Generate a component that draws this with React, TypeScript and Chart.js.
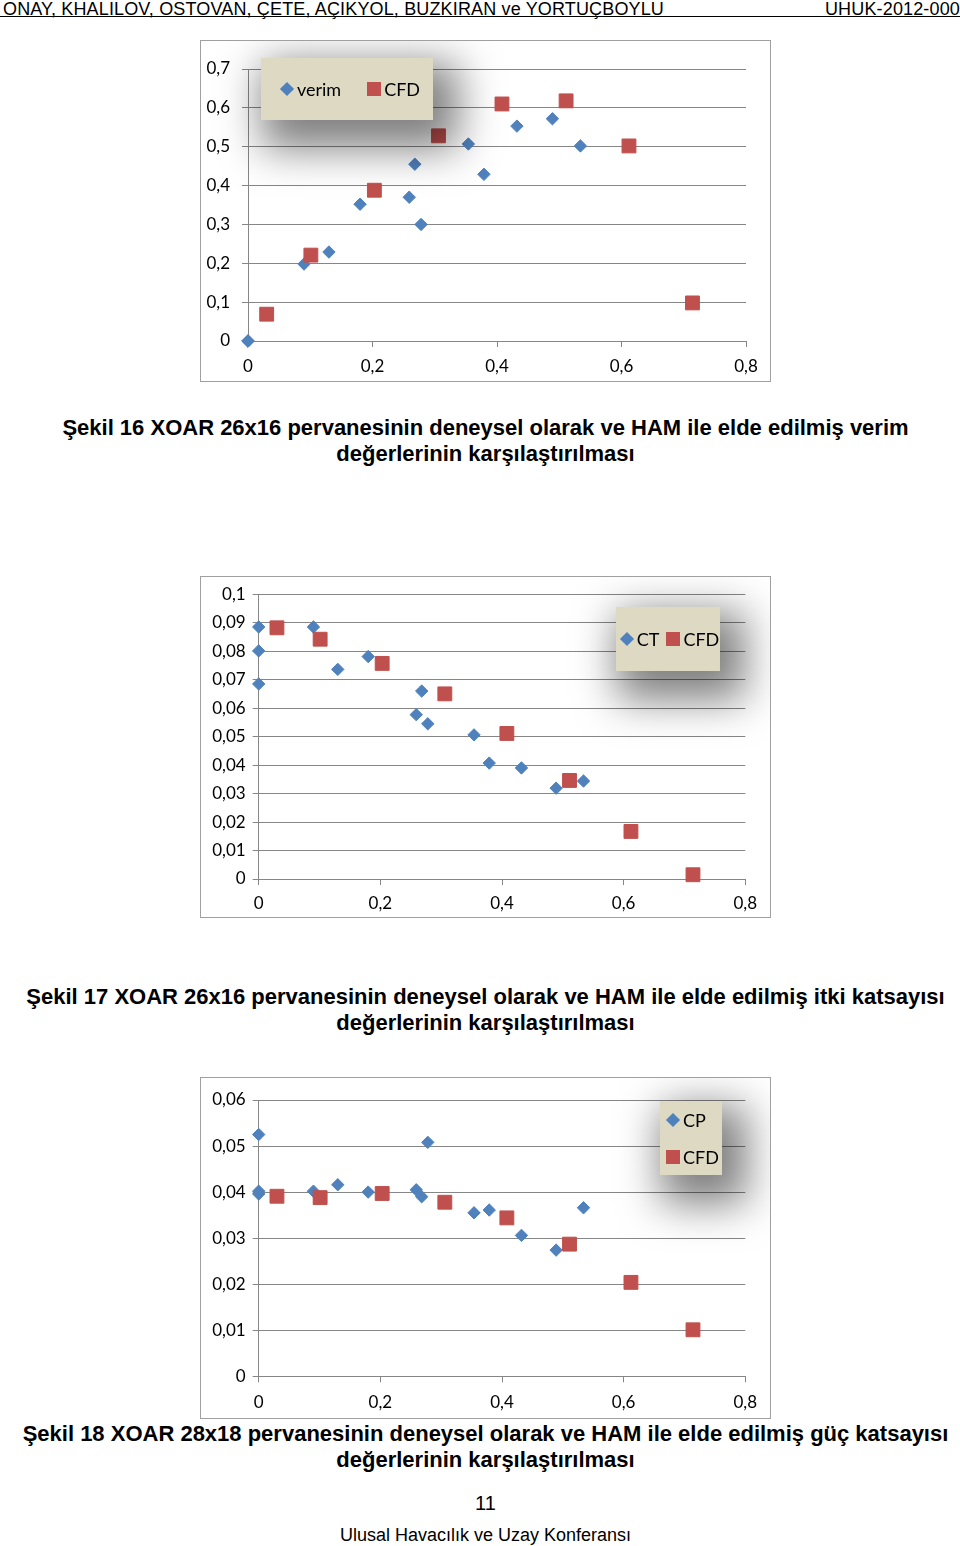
import React, { useEffect, useRef } from "react";
import { Chart, registerables } from "chart.js";

Chart.register(...registerables);

const BLUE = "#4f81bd";
const RED = "#c0504d";
const GRID = "#868686";

// Experimental advance ratios (J) and measured values
const expJ = [0, 0, 0, 0.09, 0.13, 0.18, 0.259, 0.268, 0.278, 0.354, 0.379, 0.432, 0.489, 0.534];
const expVerim = [0, 0, 0, 0.198, 0.229, 0.352, 0.37, 0.455, 0.3, 0.507, 0.429, 0.553, 0.572, 0.502];
const expCT = [0.0885, 0.0801, 0.0685, 0.0885, 0.0736, 0.0781, 0.0577, 0.066, 0.0545, 0.0506, 0.0407, 0.039, 0.0319, 0.0344];
const expCP = [0.0525, 0.0402, 0.0396, 0.0402, 0.0416, 0.04, 0.0405, 0.039, 0.0508, 0.0355, 0.0361, 0.0306, 0.0274, 0.0366];

// CFD (HAM) results
const cfdJ = [0.03, 0.101, 0.203, 0.306, 0.408, 0.511, 0.612, 0.714];
const cfdVerim = [0.069, 0.221, 0.388, 0.528, 0.61, 0.618, 0.502, 0.098];
const cfdCT = [0.0882, 0.0842, 0.0757, 0.065, 0.0511, 0.0346, 0.0167, 0.0015];
const cfdCP = [0.0391, 0.0388, 0.0397, 0.0378, 0.0344, 0.0287, 0.0204, 0.0101];

// Tick values
const xTickValues = [0, 0.2, 0.4, 0.6, 0.8];
const yTicksVerim = [0, 0.1, 0.2, 0.3, 0.4, 0.5, 0.6, 0.7];
const yTicksCT = [0, 0.01, 0.02, 0.03, 0.04, 0.05, 0.06, 0.07, 0.08, 0.09, 0.1];
const yTicksCP = [0, 0.01, 0.02, 0.03, 0.04, 0.05, 0.06];

// Text
const headerLeft = "ONAY, KHALILOV, OSTOVAN, ÇETE, AÇIKYOL, BUZKIRAN ve YORTUÇBOYLU";
const headerRight = "UHUK-2012-000";
const caption16 = ["Şekil 16 XOAR 26x16 pervanesinin deneysel olarak ve HAM ile elde edilmiş verim", "değerlerinin karşılaştırılması"];
const caption17 = ["Şekil 17 XOAR 26x16 pervanesinin deneysel olarak ve HAM ile elde edilmiş itki katsayısı", "değerlerinin karşılaştırılması"];
const caption18 = ["Şekil 18 XOAR 28x18 pervanesinin deneysel olarak ve HAM ile elde edilmiş güç katsayısı", "değerlerinin karşılaştırılması"];
const pageNumber = "11";
const footer = "Ulusal Havacılık ve Uzay Konferansı";

type Series = { label: string; x: number[]; y: number[]; color: string; style: "rectRot" | "rect"; order: number };
type Spec = {
  series: Series[];
  yTicks: number[];
  left: number;
  top: number;
  right: number;
  xAxisH: number;
  yPad: number;
  xPad: number;
  legend: { left: number; top: number; width: number; height: number; column: boolean; gap: number; padLeft: number };
};

const fmt = (v: number) => {
  const r = Math.round(v * 10000) / 10000;
  return r === 0 ? "0" : String(r).replace(".", ",");
};

const TICK_FONT = { family: "Lato, 'Open Sans', sans-serif", size: 17 };

function ChartBox({ spec, top }: { spec: Spec; top: number }) {
  const ref = useRef<HTMLCanvasElement | null>(null);
  useEffect(() => {
    if (!ref.current) return;
    const yMax = spec.yTicks[spec.yTicks.length - 1];
    const chart = new Chart(ref.current, {
      type: "scatter",
      data: {
        datasets: spec.series.map((s) => ({
          label: s.label,
          data: s.x.map((x, k) => ({ x, y: s.y[k] })),
          pointStyle: s.style,
          pointRadius: s.style === "rectRot" ? 6.2 : 9.8,
          pointHoverRadius: s.style === "rectRot" ? 6.2 : 9.8,
          pointBorderWidth: 1,
          backgroundColor: s.color,
          borderColor: s.color,
          showLine: false,
          clip: false,
          order: s.order,
        })),
      },
      options: {
        animation: false,
        responsive: false,
        maintainAspectRatio: false,
        layout: { padding: { left: 0, top: spec.top, right: spec.right, bottom: 0 } },
        plugins: { legend: { display: false }, tooltip: { enabled: false } },
        scales: {
          x: {
            type: "linear",
            min: 0,
            max: 0.8,
            afterBuildTicks: (s: any) => {
              s.ticks = xTickValues.map((v) => ({ value: v }));
            },
            afterFit: (s: any) => {
              s.height = spec.xAxisH;
            },
            grid: { drawOnChartArea: false, drawTicks: true, tickLength: 6, color: GRID },
            border: { display: true, color: GRID },
            ticks: { font: TICK_FONT, color: "#000", padding: spec.xPad, maxRotation: 0, autoSkip: false, callback: (v: any) => fmt(Number(v)) },
          },
          y: {
            type: "linear",
            min: 0,
            max: yMax,
            afterBuildTicks: (s: any) => {
              s.ticks = spec.yTicks.map((v) => ({ value: v }));
            },
            afterFit: (s: any) => {
              s.width = spec.left;
            },
            grid: { drawTicks: true, tickLength: 6, color: GRID },
            border: { display: true, color: GRID },
            ticks: { font: TICK_FONT, color: "#000", padding: spec.yPad, autoSkip: false, callback: (v: any) => fmt(Number(v)) },
          },
        },
      },
    });
    let alive = true;
    if ((document as any).fonts?.load) {
      (document as any).fonts.load("17px Lato").then(() => {
        if (alive) chart.update();
      });
    }
    return () => {
      alive = false;
      chart.destroy();
    };
  }, [spec]);

  const lg = spec.legend;
  return (
    <div
      style={{
        position: "absolute",
        left: 200,
        top,
        width: 571,
        height: 342,
        boxSizing: "border-box",
        border: "1px solid #a0a0a0",
        background: "#fff",
        overflow: "hidden",
      }}
    >
      <canvas ref={ref} width={569} height={340} style={{ display: "block", width: 569, height: 340 }} />
      <div
        style={{
          position: "absolute",
          left: lg.left,
          top: lg.top,
          width: lg.width,
          height: lg.height,
          background: "#ddd9c3",
          boxShadow: "13px 17px 42px 12px rgba(0,0,0,0.5)",
          display: "flex",
          flexDirection: lg.column ? "column" : "row",
          alignItems: lg.column ? "flex-start" : "center",
          justifyContent: "center",
          gap: lg.gap,
          paddingLeft: lg.padLeft,
          boxSizing: "border-box",
          fontFamily: "Lato, 'Open Sans', sans-serif",
          fontSize: 18,
          color: "#000",
        }}
      >
        {spec.series.map((s) => (
          <div key={s.label} style={{ display: "flex", alignItems: "center", gap: 3, lineHeight: "20px" }}>
            <span style={{ display: "inline-block", width: 14, height: 14, position: "relative" }}>
              {s.style === "rectRot" ? (
                <span
                  style={{
                    position: "absolute",
                    left: 2,
                    top: 2,
                    width: 10,
                    height: 10,
                    background: s.color,
                    transform: "rotate(45deg)",
                  }}
                />
              ) : (
                <span style={{ position: "absolute", left: 0, top: 0, width: 14, height: 14, background: s.color }} />
              )}
            </span>
            <span>{s.label}</span>
          </div>
        ))}
      </div>
    </div>
  );
}

const spec16: Spec = {
  series: [
    { label: "verim", x: expJ, y: expVerim, color: BLUE, style: "rectRot", order: 1 },
    { label: "CFD", x: cfdJ, y: cfdVerim, color: RED, style: "rect", order: 0 },
  ],
  yTicks: yTicksVerim,
  left: 47,
  top: 28,
  right: 24,
  xAxisH: 40,
  yPad: 12,
  xPad: 9,
  legend: { left: 60, top: 17, width: 172, height: 62, column: false, gap: 26, padLeft: 6 },
};

const spec17: Spec = {
  series: [
    { label: "CT", x: expJ, y: expCT, color: BLUE, style: "rectRot", order: 1 },
    { label: "CFD", x: cfdJ, y: cfdCT, color: RED, style: "rect", order: 0 },
  ],
  yTicks: yTicksCT,
  left: 57.7,
  top: 17,
  right: 24.7,
  xAxisH: 38,
  yPad: 7,
  xPad: 8,
  legend: { left: 415, top: 30, width: 104, height: 64, column: false, gap: 7, padLeft: 3 },
};

const spec18: Spec = {
  series: [
    { label: "CP", x: expJ, y: expCP, color: BLUE, style: "rectRot", order: 1 },
    { label: "CFD", x: cfdJ, y: cfdCP, color: RED, style: "rect", order: 0 },
  ],
  yTicks: yTicksCP,
  left: 57.7,
  top: 22,
  right: 24.7,
  xAxisH: 41.7,
  yPad: 7,
  xPad: 10,
  legend: { left: 459, top: 23, width: 62, height: 74, column: true, gap: 17, padLeft: 6 },
};

const capStyle: React.CSSProperties = {
  position: "absolute",
  left: 0,
  width: 971,
  textAlign: "center",
  fontFamily: "'Liberation Sans', Arial, sans-serif",
  fontWeight: "bold",
  fontSize: 22,
  lineHeight: "26px",
  color: "#000",
  whiteSpace: "nowrap",
};

function Caption({ lines, top }: { lines: string[]; top: number }) {
  return (
    <div style={{ ...capStyle, top }}>
      {lines.map((l) => (
        <div key={l}>{l}</div>
      ))}
    </div>
  );
}

export default function App() {
  return (
    <div
      style={{
        position: "absolute",
        left: 0,
        top: 0,
        width: 960,
        height: 1546,
        background: "#fff",
        overflow: "hidden",
        fontFamily: "'Liberation Sans', Arial, sans-serif",
      }}
    >
      <div
        style={{
          position: "absolute",
          left: 0,
          top: 0,
          width: 960,
          height: 16,
          borderBottom: "1px solid #000",
          fontSize: 18,
          lineHeight: "18px",
          color: "#000",
          whiteSpace: "nowrap",
        }}
      >
        <span style={{ position: "absolute", left: 3, top: 0, letterSpacing: 0.15 }}>{headerLeft}</span>
        <span style={{ position: "absolute", right: 0, top: 0, letterSpacing: 0.15 }}>{headerRight}</span>
      </div>

      <ChartBox spec={spec16} top={40} />
      <Caption lines={caption16} top={415} />

      <ChartBox spec={spec17} top={576} />
      <Caption lines={caption17} top={984} />

      <ChartBox spec={spec18} top={1077} />
      <Caption lines={caption18} top={1421} />

      <div style={{ position: "absolute", left: 0, width: 971, top: 1490, textAlign: "center", fontSize: 20, lineHeight: "26px" }}>
        {pageNumber}
      </div>
      <div style={{ position: "absolute", left: 0, width: 971, top: 1525, textAlign: "center", fontSize: 18, lineHeight: "20px" }}>
        {footer}
      </div>
    </div>
  );
}
